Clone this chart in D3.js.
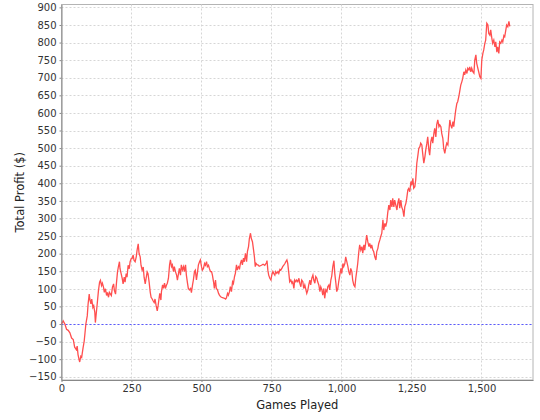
<!DOCTYPE html>
<html>
<head>
<meta charset="utf-8">
<script src="https://cdn.jsdelivr.net/npm/d3@7"></script>
<style>
  html, body { margin: 0; padding: 0; background: #ffffff; }
  svg { display: block; }
  text { font-family: "DejaVu Sans", sans-serif; }
</style>
</head>
<body>
<div id="chart"></div>
<script>
// ---- Data: [games played, total profit $] ----
const segment1 = [[0,0],[6,9],[12,0],[18,-15],[24,-18],[30,-25],[36,-40],[42,-44],[47,-66],[53,-73],[56,-63],[59,-87],[63,-102],[65,-108],[69,-92],[72,-95],[77,-68],[81,-49],[84,-25],[87,0],[92,23],[95,57],[99,85],[101,71],[105,57],[108,71],[112,47],[115,52],[119,33],[121,4],[125,37],[128,61],[132,95],[136,119],[139,124],[143,109],[146,116],[150,105],[153,90],[157,100],[161,81],[164,90],[168,76],[171,90],[175,85],[178,81],[182,105],[186,114],[189,95],[193,85],[196,114],[200,148],[203,162],[207,177],[209,157],[213,143],[217,129],[220,114],[224,133],[227,119],[231,143],[234,133],[238,167],[242,157],[245,177],[249,186],[252,186],[256,196],[259,181],[263,177],[267,191],[270,210],[274,228],[277,201],[281,191],[284,167],[288,153],[292,162],[295,133],[299,114],[302,129],[306,148],[309,143],[313,119],[317,90],[320,76],[324,71],[327,66],[331,61],[334,71],[338,52],[342,37],[345,52],[349,76]];
const segment2 = [[351,87],[355,68],[357,92],[361,111],[364,101],[368,116],[371,101],[375,111],[378,116],[382,130],[386,168],[389,182],[393,163],[396,168],[400,149],[403,163],[407,149],[411,139],[414,125],[418,144],[421,158],[425,139],[428,168],[432,154],[436,163],[439,149],[443,168],[446,139],[450,116],[453,101],[457,97],[461,101],[464,89],[468,111],[471,125],[475,149],[478,153],[482,125],[486,149],[489,168],[493,177],[496,182],[500,163],[503,153],[507,158],[511,172],[514,167],[518,177],[521,163],[525,167],[528,158],[532,149],[536,149],[539,139],[543,120],[546,101],[550,125],[553,101],[557,97],[561,87],[564,82],[568,78],[571,76],[575,75],[578,74],[582,73],[586,71],[589,74],[593,87],[596,82],[600,92],[603,106],[607,92],[611,120],[614,115],[618,135],[621,144],[625,168],[628,153],[632,163],[636,158],[639,172],[643,182],[646,168],[650,187],[653,177],[657,201],[661,177],[664,206],[668,220],[671,243],[675,258],[678,243],[682,234],[686,210],[689,191],[692,163],[695,172],[699,168],[702,168],[706,164]];
const segment3 = [[714,167],[720,170],[726,167],[732,174],[734,180],[737,153],[740,139],[744,130],[748,125],[751,139],[755,149],[758,144],[762,139],[765,149],[769,144],[773,149],[776,144],[780,155],[783,153],[787,158],[790,163],[794,167],[798,172],[801,177],[805,182],[808,172],[812,144],[815,120],[819,125],[823,116],[826,120],[830,101],[833,125],[837,120],[840,125],[844,120],[848,130],[851,116],[855,106],[858,125],[862,120],[865,101],[869,111],[873,97],[876,87],[880,97],[883,111],[887,125],[890,111],[894,130],[898,139],[901,125],[905,116],[908,135],[912,130],[915,120],[919,111],[923,92],[926,106],[930,97],[933,82],[937,101],[940,73],[944,97],[948,92],[951,106],[955,111],[958,97],[962,125],[965,135],[969,163],[973,180],[976,144],[980,116],[983,92],[987,101],[990,120],[994,139],[998,158],[1001,144],[1005,172],[1008,163],[1012,172],[1015,191],[1019,177],[1023,163],[1026,149],[1030,139],[1033,158],[1037,149],[1040,125],[1044,111],[1048,106],[1051,130],[1055,153],[1058,172],[1062,206],[1065,225]];
const segment4 = [[1069,210],[1073,220],[1076,201],[1080,225],[1083,210],[1087,234],[1090,253],[1094,234],[1098,220],[1101,229],[1105,215],[1108,225],[1112,210],[1115,206],[1119,191],[1123,182],[1126,206],[1130,215],[1133,229],[1137,239],[1140,248],[1144,258],[1148,296],[1151,267],[1155,286],[1158,277],[1162,291],[1165,315],[1169,338],[1173,324],[1176,352],[1180,333],[1183,357],[1187,333],[1190,352],[1194,338],[1198,324],[1201,343],[1205,357],[1208,329],[1212,352],[1215,333],[1219,324],[1223,305],[1226,333],[1230,343],[1233,357],[1237,381],[1240,385],[1244,376],[1248,405],[1251,395],[1255,414],[1258,386],[1262,390],[1265,409],[1269,457],[1273,480],[1276,499],[1280,504],[1283,514],[1287,509],[1290,485],[1294,457],[1298,476],[1301,495],[1305,514],[1308,532],[1312,495],[1315,480],[1319,518],[1323,532],[1326,514],[1330,542],[1333,556]];
const segment5 = [[1337,532],[1340,566],[1344,580],[1348,561],[1351,566],[1355,561],[1358,542],[1362,528],[1365,499],[1369,485],[1373,504],[1376,514],[1380,509],[1383,542],[1387,580],[1390,566],[1394,556],[1398,575],[1401,561],[1405,589],[1408,608],[1412,627],[1415,632],[1419,646],[1423,665],[1426,679],[1430,689],[1433,698],[1437,717],[1440,708],[1444,722],[1448,712],[1451,727],[1455,722],[1458,731],[1462,717],[1465,727],[1469,717],[1473,713],[1476,750],[1480,765],[1483,741],[1487,727],[1490,717],[1494,703],[1498,698],[1501,750],[1505,769],[1508,779],[1512,798],[1515,807],[1519,855],[1523,850],[1526,826],[1530,821],[1533,836],[1537,812],[1540,798],[1544,807],[1548,788],[1551,802],[1555,773],[1558,788],[1562,769],[1565,802],[1569,798],[1573,807],[1576,802],[1580,820],[1583,817],[1587,836],[1590,850],[1594,845],[1598,860],[1601,846]];

const xTicks = [0, 250, 500, 750, 1000, 1250, 1500];
const yTicks = [-150,-100,-50,0,50,100,150,200,250,300,350,400,450,500,550,600,650,700,750,800,850,900];
const xDomain = [0, 1684];
const yDomain = [-159.2, 908.2];
const xTitle = "Games Played";
const yTitle = "Total Profit ($)";

// ---- Layout ----
const W = 540, H = 420;
const plot = { left: 61.5, right: 533, top: 4.5, bottom: 380 };

const svg = d3.select("#chart").append("svg")
  .attr("width", W).attr("height", H)
  .style("background", "#ffffff");

const x = d3.scaleLinear().domain(xDomain).range([plot.left, plot.right]);
const y = d3.scaleLinear().domain(yDomain).range([plot.bottom, plot.top]);

// plot background
svg.append("rect")
  .attr("x", plot.left).attr("y", plot.top)
  .attr("width", plot.right - plot.left).attr("height", plot.bottom - plot.top)
  .attr("fill", "#ffffff")
  .attr("stroke", "#b4b4b4").attr("stroke-width", 1);

// gridlines
const grid = svg.append("g");
grid.selectAll("line.h").data(yTicks).join("line")
  .attr("x1", plot.left).attr("x2", plot.right)
  .attr("y1", d => Math.round(y(d)) + 0.5).attr("y2", d => Math.round(y(d)) + 0.5)
  .attr("stroke", "#d6d6d6").attr("stroke-width", 1).attr("stroke-dasharray", "2,2");
grid.selectAll("line.v").data(xTicks.filter(d => d > 0)).join("line")
  .attr("y1", plot.top).attr("y2", plot.bottom)
  .attr("x1", d => Math.round(x(d)) + 0.5).attr("x2", d => Math.round(x(d)) + 0.5)
  .attr("stroke", "#d6d6d6").attr("stroke-width", 1).attr("stroke-dasharray", "2,2");

// zero marker line
svg.append("line")
  .attr("x1", plot.left).attr("x2", plot.right)
  .attr("y1", Math.round(y(0)) + 0.5).attr("y2", Math.round(y(0)) + 0.5)
  .attr("stroke", "#5a5aff").attr("stroke-width", 1).attr("stroke-dasharray", "2,2");

// data line
const series = segment1.concat(segment2, segment3, segment4, segment5);
const line = d3.line().x(d => x(d[0])).y(d => y(d[1]));
svg.append("path")
  .datum(series)
  .attr("d", line)
  .attr("fill", "none")
  .attr("stroke", "#ff4f4f")
  .attr("stroke-width", 1.3)
  .attr("stroke-linejoin", "miter");

// axes
const yAxis = d3.axisLeft(y).tickValues(yTicks).tickSizeOuter(0).tickSizeInner(2).tickPadding(3);
const xAxis = d3.axisBottom(x).tickValues(xTicks).tickFormat(d3.format(",")).tickSizeOuter(0).tickSizeInner(2).tickPadding(3);

const gy = svg.append("g").attr("transform", `translate(${plot.left},0)`).call(yAxis);
const gx = svg.append("g").attr("transform", `translate(0,${plot.bottom})`).call(xAxis);
[gy, gx].forEach(g => {
  g.select(".domain").attr("stroke", "#888888").attr("stroke-width", 1);
  g.selectAll(".tick line").attr("stroke", "#888888");
  g.selectAll(".tick text")
    .attr("fill", "#333333")
    .style("font-family", "'DejaVu Sans', sans-serif")
    .style("font-size", "10px");
});

// axis titles
svg.append("text")
  .attr("x", (plot.left + plot.right) / 2).attr("y", 408.5)
  .attr("text-anchor", "middle")
  .attr("fill", "#222222")
  .style("font-size", "11.5px")
  .text(xTitle);

svg.append("text")
  .attr("transform", `translate(23.5,${(plot.top + plot.bottom) / 2}) rotate(-90)`)
  .attr("text-anchor", "middle")
  .attr("fill", "#222222")
  .style("font-size", "11.5px")
  .text(yTitle);
</script>
</body>
</html>
